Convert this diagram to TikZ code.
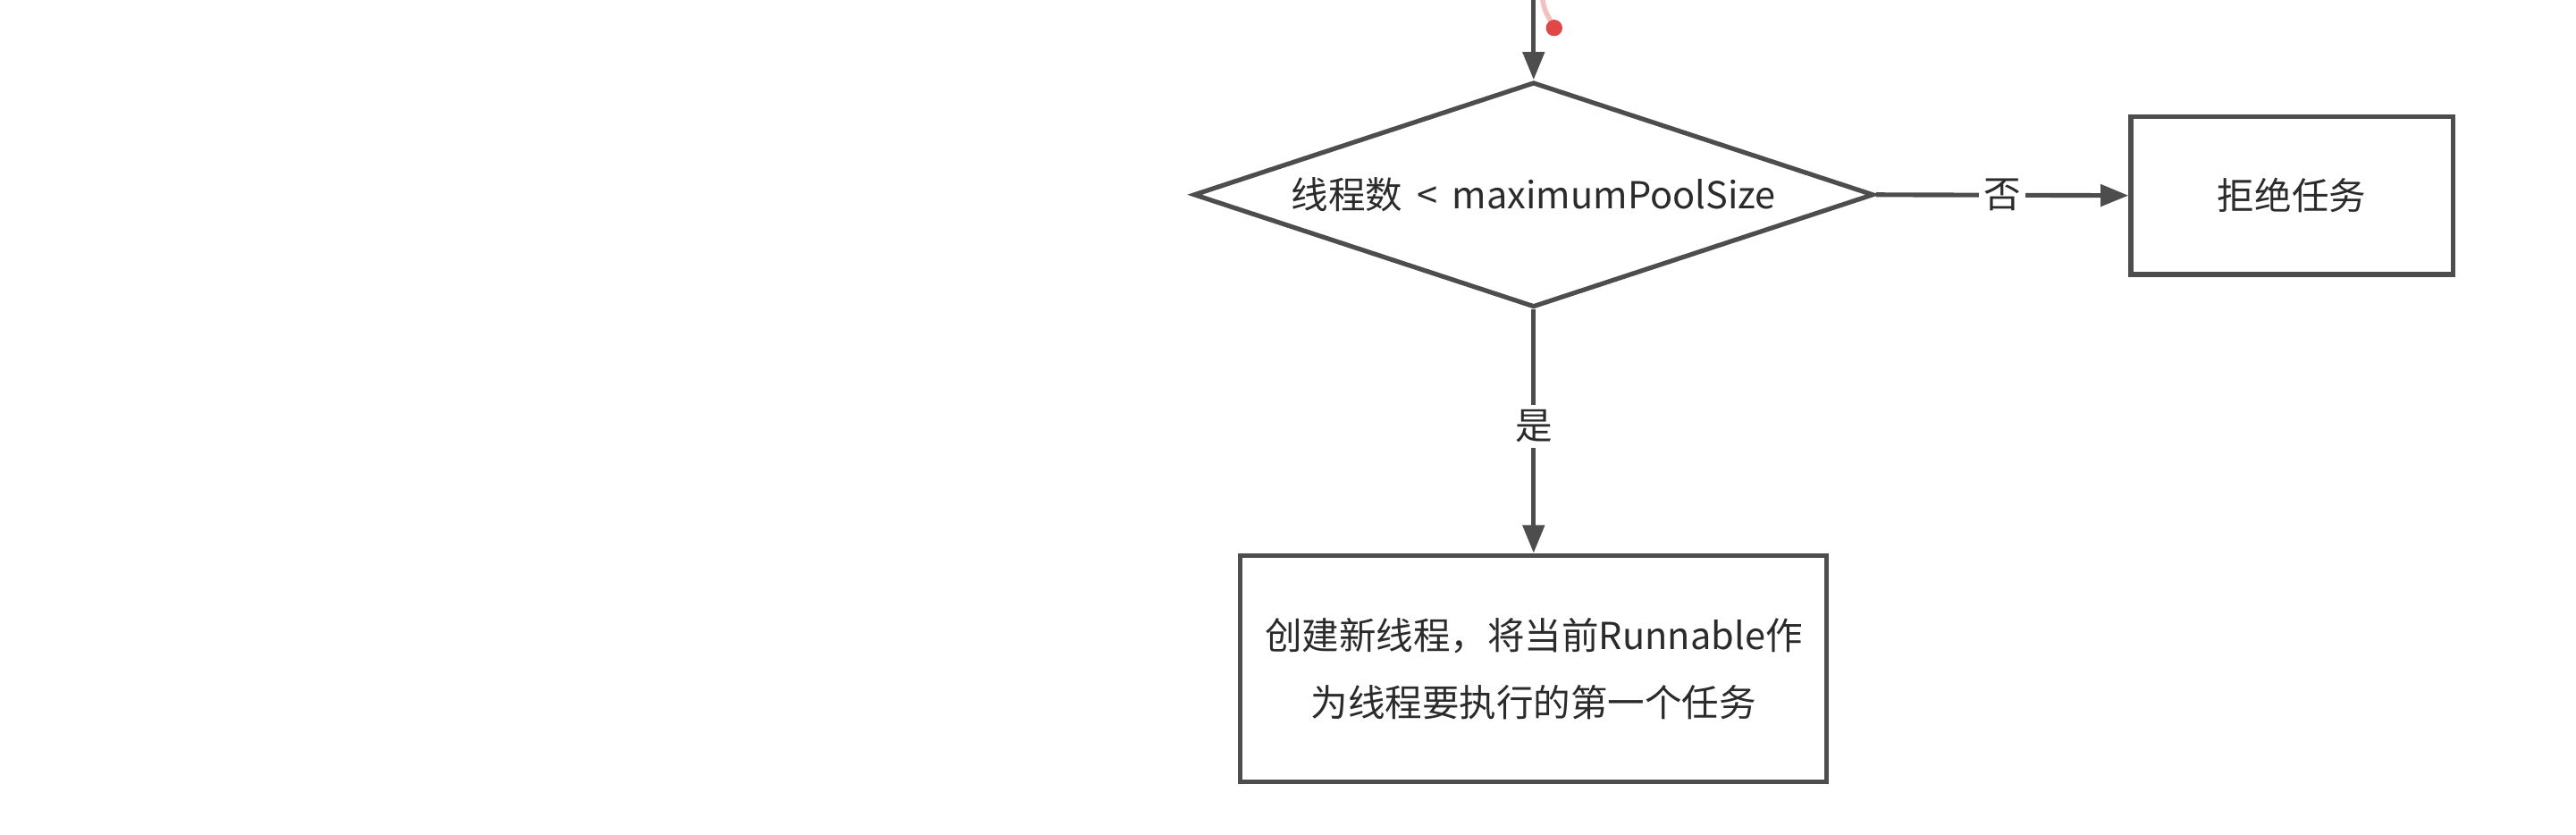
\documentclass[tikz,border=0pt]{standalone}
\usepackage{fontspec}
\setmainfont{Noto Sans CJK SC}
\usetikzlibrary{shapes.geometric,arrows.meta}
\definecolor{linecol}{HTML}{4D4D4D}
\definecolor{txtcol}{HTML}{2B2B2B}
\definecolor{laser}{HTML}{E04848}
\begin{document}
\begin{tikzpicture}[x=1pt,y=1pt,
  base/.style={font=\fontsize{22.6}{41}\selectfont, text=txtcol},
  boxnode/.style={base, draw=linecol, line width=2.8pt, fill=white, inner sep=0pt, align=center},
  decision/.style={base, draw=linecol, line width=2.8pt, diamond, shape aspect=3.02, inner sep=0pt, minimum width=414pt, minimum height=137pt},
  conn/.style={draw=linecol, line width=2.8pt, -{Triangle[length=17pt,width=13pt]}},
  lbl/.style={base, fill=white, inner sep=3pt}]
\useasboundingbox (0,0) rectangle (1568,508);
\fill[white] (0,0) rectangle (1568,508);
\node[decision] (dec) at (933.5,389.5) {线程数 \,<\, maximumPoolSize};
\node[boxnode, minimum width=196pt, minimum height=96pt] (rej) at (1395,389) {拒绝任务};
\node[boxnode, minimum width=357pt, minimum height=138pt] (new) at (933.5,101) {创建新线程，将当前Runnable作\\为线程要执行的第一个任务};
\coordinate (top) at (933.5,508);
\draw[conn] (top) -- (dec.north);
\draw[conn] (dec.east) -- node[lbl, pos=0.5] {否} (rej.west);
\draw[conn] (dec.south) -- node[lbl, pos=0.48] {是} (new.north);
% laser pointer mark
\coordinate (lz0) at (939,508);
\coordinate (lz1) at (946,491);
\draw[laser!35, line width=3pt, line cap=round] (lz0) .. controls (940,500) and (944,496) .. (lz1);
\fill[laser] (lz1) circle (5pt);
\end{tikzpicture}
\end{document}
